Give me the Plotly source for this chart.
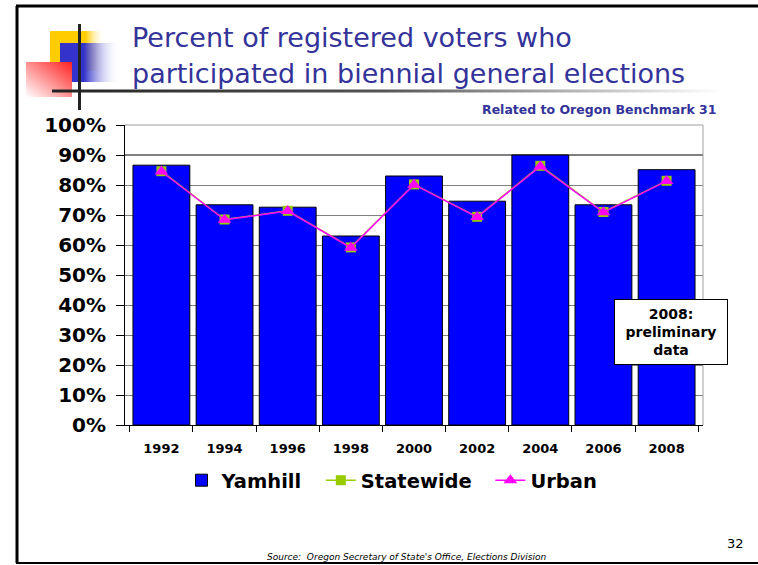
import base64
import plotly.graph_objects as go

years = ["1992", "1994", "1996", "1998", "2000", "2002", "2004", "2006", "2008"]
yamhill = [0.866, 0.734, 0.726, 0.630, 0.830, 0.746, 0.900, 0.734, 0.851]
statewide = [0.846, 0.685, 0.714, 0.592, 0.802, 0.694, 0.864, 0.710, 0.814]
urban = [0.845, 0.684, 0.713, 0.591, 0.801, 0.693, 0.862, 0.709, 0.813]
y_ticks = [i / 10 for i in range(11)]

FIG_W, FIG_H = 758, 565
ML, MR, MT, MB = 125, 55, 125, 140
PW = FIG_W - ML - MR
PH = FIG_H - MT - MB


def px(x):
    return (x - ML) / PW


def py(y):
    return (FIG_H - MB - y) / PH


svg = f'''<svg xmlns="http://www.w3.org/2000/svg" width="{FIG_W}" height="130" viewBox="0 0 {FIG_W} 130">
<defs>
<linearGradient id="yg" x1="0" x2="1" y1="0" y2="0">
<stop offset="0" stop-color="#FFCC00"/><stop offset="0.65" stop-color="#FFCC00"/><stop offset="1" stop-color="#FFFFFF" stop-opacity="0"/></linearGradient>
<linearGradient id="bg" x1="0" x2="1" y1="0" y2="0">
<stop offset="0" stop-color="#3333CC"/><stop offset="0.4" stop-color="#3333CC"/><stop offset="1" stop-color="#FFFFFF" stop-opacity="0"/></linearGradient>
<linearGradient id="rg" x1="1" x2="0" y1="0" y2="1">
<stop offset="0" stop-color="#FF2020"/><stop offset="1" stop-color="#FFFFFF"/></linearGradient>
<linearGradient id="lg" x1="0" x2="1" y1="0" y2="0">
<stop offset="0" stop-color="#222222"/><stop offset="0.5" stop-color="#555555"/><stop offset="1" stop-color="#FFFFFF"/></linearGradient>
</defs>
<rect x="50" y="31" width="55" height="40" fill="url(#yg)"/>
<rect x="60" y="43" width="60" height="39" fill="url(#bg)"/>
<rect x="26" y="62" width="46" height="35" fill="url(#rg)"/>
<rect x="52" y="89.5" width="668" height="3" fill="url(#lg)"/>
<rect x="78" y="24" width="3" height="86" fill="#222222"/>
</svg>'''
svg_uri = "data:image/svg+xml;base64," + base64.b64encode(svg.encode()).decode()

fig = go.Figure()
fig.add_trace(go.Bar(
    x=years, y=yamhill, name="Yamhill&nbsp;&nbsp;",
    marker=dict(color="#0000FF", line=dict(color="#000000", width=1)),
))
fig.add_trace(go.Scatter(
    x=years, y=statewide, name="Statewide&nbsp;&nbsp;", mode="lines+markers",
    line=dict(color="#99CC00", width=1.5),
    marker=dict(symbol="square", size=10, color="#99CC00"),
))
fig.add_trace(go.Scatter(
    x=years, y=urban, name="Urban", mode="lines+markers",
    line=dict(color="#FF00FF", width=1.5),
    marker=dict(symbol="triangle-up", size=12, color="#FF00FF"),
))

fig.update_layout(
    width=FIG_W, height=FIG_H,
    margin=dict(l=ML, r=MR, t=MT, b=MB),
    paper_bgcolor="white", plot_bgcolor="rgba(0,0,0,0)",
    bargap=0.1,
    showlegend=True,
    legend=dict(
        orientation="h", x=px(392), xanchor="center", y=py(461), yanchor="top",
        font=dict(family="DejaVu Sans", size=19.5, color="black", weight="bold"),
        itemwidth=30, traceorder="normal",
    ),
    xaxis=dict(
        type="category", showline=True, linecolor="black", linewidth=1,
        ticks="outside", tickson="boundaries", ticklen=6, tickcolor="black",
        tickfont=dict(family="DejaVu Sans", size=13, color="black", weight="bold"),
        ticklabelstandoff=11,
        showgrid=False,
    ),
    yaxis=dict(
        range=[0, 1], tickvals=y_ticks, tickformat=".0%",
        showline=True, linecolor="black", linewidth=1,
        ticks="outside", ticklen=8, tickcolor="black",
        tickfont=dict(family="DejaVu Sans", size=20, color="black", weight="bold"),
        ticklabelstandoff=6,
        showgrid=True, gridcolor="#808080", gridwidth=1, zeroline=False,
    ),
    images=[dict(
        source=svg_uri, xref="paper", yref="paper",
        x=px(0), y=py(0), sizex=FIG_W / PW, sizey=130 / PH,
        xanchor="left", yanchor="top", sizing="stretch", layer="above",
    )],
)

shapes = [
    dict(type="line", xref="paper", yref="paper", x0=0, x1=1, y0=1, y1=1,
         line=dict(color="#A0A0A0", width=1)),
    dict(type="line", xref="paper", yref="paper", x0=1, x1=1, y0=0, y1=1,
         line=dict(color="#A0A0A0", width=1)),
    dict(type="line", xref="paper", yref="y", x0=0, x1=1, y0=0.9, y1=0.9,
         line=dict(color="black", width=1), layer="below"),
    dict(type="line", xref="paper", yref="paper", x0=px(17), x1=px(17), y0=py(6), y1=py(563),
         line=dict(color="black", width=3)),
    dict(type="line", xref="paper", yref="paper", x0=px(16), x1=px(758), y0=py(6), y1=py(6),
         line=dict(color="black", width=3)),
    dict(type="line", xref="paper", yref="paper", x0=px(16), x1=px(758), y0=py(563), y1=py(563),
         line=dict(color="black", width=2)),
]
fig.update_layout(shapes=shapes)

title_font = dict(family="DejaVu Sans", size=27, color="#333399")
annotations = [
    dict(text="Percent of registered voters who", x=px(130), y=py(37), xref="paper", yref="paper",
         xanchor="left", yanchor="middle", showarrow=False, font=title_font),
    dict(text="participated in biennial general elections", x=px(130), y=py(73), xref="paper", yref="paper",
         xanchor="left", yanchor="middle", showarrow=False, font=title_font),
    dict(text="Related to Oregon Benchmark 31", x=px(718), y=py(110), xref="paper", yref="paper",
         xanchor="right", yanchor="middle", showarrow=False,
         font=dict(family="DejaVu Sans", size=12.5, color="#333399", weight="bold")),
    dict(text="2008:<br>preliminary<br>data", x=px(671), y=py(332), xref="paper", yref="paper",
         xanchor="center", yanchor="middle", showarrow=False, align="center",
         bgcolor="white", bordercolor="black", borderwidth=1, borderpad=6,
         width=100,
         font=dict(family="DejaVu Sans", size=14, color="black", weight="bold")),
    dict(text="Source:  Oregon Secretary of State's Office, Elections Division", x=px(406), y=py(557),
         xref="paper", yref="paper", xanchor="center", yanchor="middle", showarrow=False,
         font=dict(family="DejaVu Sans", size=9, color="black", style="italic")),
    dict(text="32", x=px(735), y=py(543), xref="paper", yref="paper",
         xanchor="center", yanchor="middle", showarrow=False,
         font=dict(family="DejaVu Sans", size=13, color="black")),
]
fig.update_layout(annotations=annotations)

fig.write_html("out.html", config={"displayModeBar": False},
               post_script="document.body.style.margin='0';document.body.style.overflow='hidden';")
